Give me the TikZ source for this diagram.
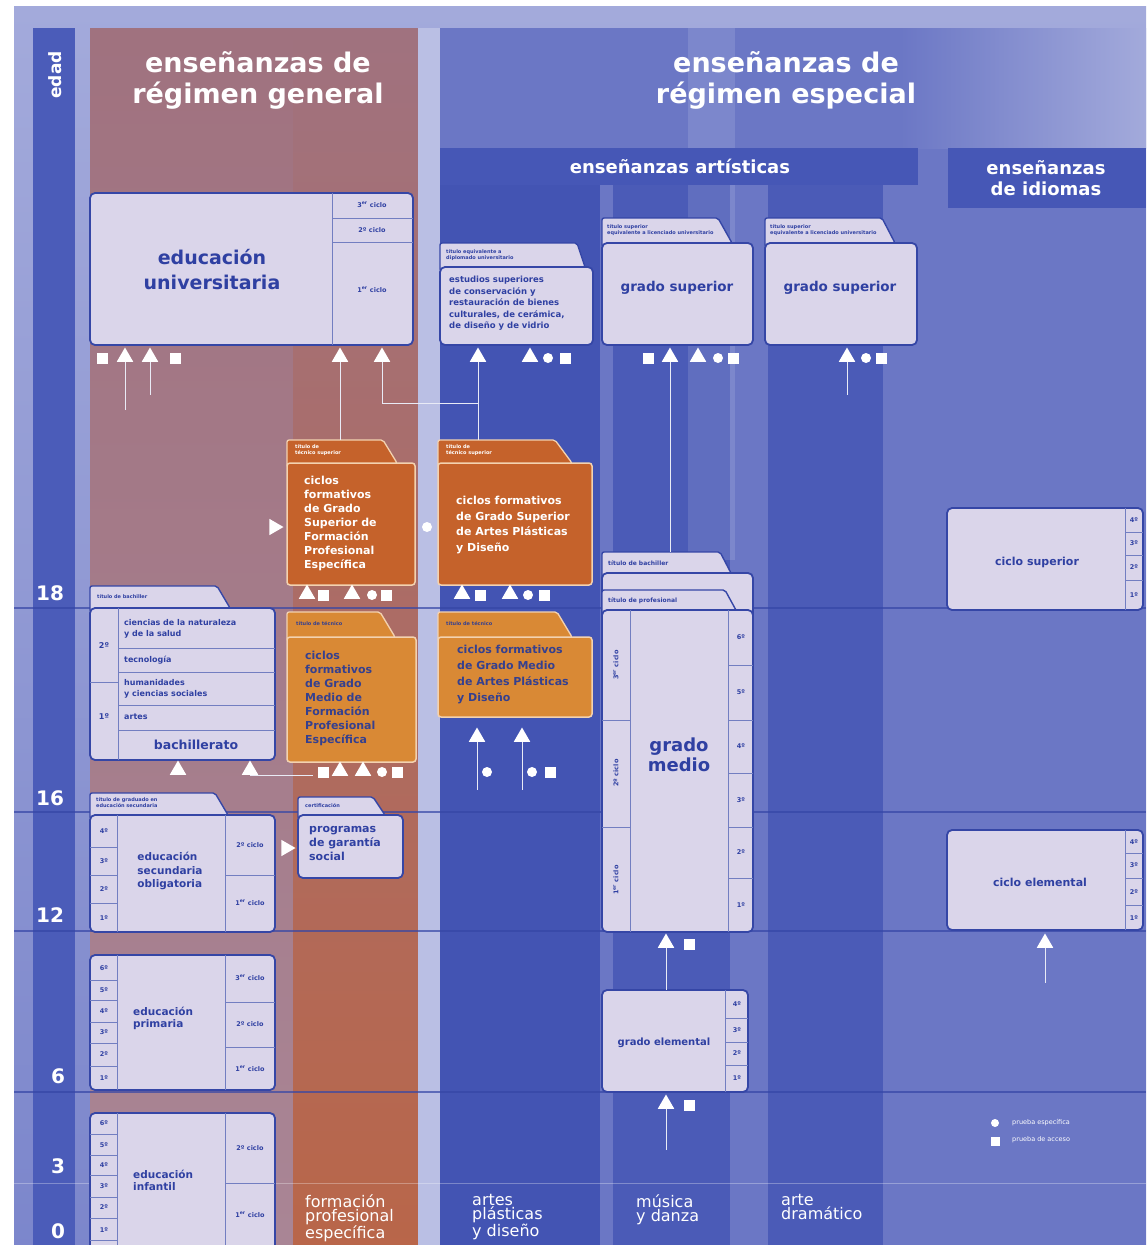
\documentclass[tikz,border=0pt]{standalone}
\usepackage{fontspec}
\setmainfont{DejaVu Sans}
\usetikzlibrary{shapes.geometric}
\definecolor{bgblue}{HTML}{6B77C5}
\definecolor{bglight}{HTML}{A3AADB}
\definecolor{darkband}{HTML}{4354B3}
\definecolor{edadblue}{HTML}{4B5CB9}
\definecolor{mauve}{HTML}{A0727F}
\definecolor{mauvelight}{HTML}{A98595}
\definecolor{fporange}{HTML}{BD6440}
\definecolor{boxfill}{HTML}{DAD5EA}
\definecolor{boxline}{HTML}{3546A6}
\definecolor{boxtext}{HTML}{2F40A2}
\definecolor{gsorange}{HTML}{C5622B}
\definecolor{gmorange}{HTML}{D98935}
\definecolor{oline}{HTML}{F3D2B0}
\definecolor{navy}{HTML}{35408F}
\definecolor{barblue}{HTML}{4657B6}
\newcommand\bx[6]{\node[#6,anchor=north west,minimum width={(#4-#2)*1pt},minimum height={(#5-#3)*1pt}] (#1) at (#2,#3) {};}
\newcommand\ftab[6]{\draw[#6] (#1,#5+4) -- (#1,#2) -- (#3,#2) -- (#4,#5) -- (#4,#5+4) -- cycle;}
\begin{document}
\begin{tikzpicture}[x=1pt,y=-1pt,
 box/.style={draw=boxline,line width=1.8pt,fill=boxfill,rounded corners=5pt,inner sep=0pt,outer sep=0pt},
 tabst/.style={draw=boxline,line width=1.4pt,fill=boxfill,rounded corners=2pt},
 gsbox/.style={draw=oline,line width=1.5pt,fill=gsorange,rounded corners=3pt,inner sep=0pt,outer sep=0pt},
 gmbox/.style={draw=oline,line width=1.5pt,fill=gmorange,rounded corners=3pt,inner sep=0pt,outer sep=0pt},
 gstab/.style={draw=oline,line width=1.3pt,fill=gsorange,rounded corners=2pt},
 gmtab/.style={draw=oline,line width=1.3pt,fill=gmorange,rounded corners=2pt},
 div/.style={draw=boxline!70,line width=0.8pt},
 tri/.style={regular polygon,regular polygon sides=3,fill=white,inner sep=0pt,minimum size=19pt},
 trir/.style={tri,shape border rotate=-90},
 sqm/.style={rectangle,fill=white,inner sep=0pt,minimum size=11pt},
 dotm/.style={circle,fill=white,inner sep=0pt,minimum size=10pt},
 conn/.style={draw=white!85!bgblue,line width=0.9pt},
 bigt/.style={font=\bfseries\fontsize{19}{25}\selectfont,text=boxtext,align=center,inner sep=0pt},
 midt/.style={font=\bfseries\fontsize{13.5}{16}\selectfont,text=boxtext,align=center,inner sep=0pt},
 lbl/.style={font=\bfseries\fontsize{10.5}{12.5}\selectfont,text=boxtext,align=left,inner sep=0pt},
 smt/.style={font=\bfseries\fontsize{8.5}{11.5}\selectfont,text=boxtext,align=left,inner sep=0pt},
 cyc/.style={font=\bfseries\fontsize{6.5}{7}\selectfont,text=boxtext,inner sep=0pt},
 tabt/.style={font=\bfseries\fontsize{5}{6}\selectfont,text=boxtext,align=left,anchor=west,inner sep=0pt},
 headt/.style={font=\bfseries\fontsize{27}{31}\selectfont,text=white,align=center},
 barh/.style={font=\bfseries\fontsize{18}{21}\selectfont,text=white,align=center},
 aget/.style={font=\bfseries\fontsize{20}{22}\selectfont,text=white},
 foott/.style={font=\fontsize{16}{14.5}\selectfont,text=white,align=left,anchor=north west,inner sep=0pt},
 wtxt/.style={font=\bfseries\fontsize{11}{14}\selectfont,text=white,align=left,anchor=north west,inner sep=0pt},
 ntxt/.style={font=\bfseries\fontsize{11}{14}\selectfont,text=navy,align=left,anchor=north west,inner sep=0pt},
 legt/.style={font=\fontsize{6.5}{7}\selectfont,text=white,anchor=west,inner sep=0pt}
]
\useasboundingbox (0,0) rectangle (1146,1245);
% ---------- background ----------
\fill[white] (0,0) rectangle (1146,1245);
\shade[top color=bglight,bottom color=bgblue!70!bglight] (14,6) rectangle (1146,1245);
\fill[edadblue] (33,28) rectangle (75,1245);
\shade[top color=mauve,bottom color=mauvelight] (90,28) rectangle (418,1245);
\shade[top color=mauve,middle color=fporange,bottom color=fporange!85!mauve] (293,28) rectangle (418,1245);
\fill[bglight!75!white] (418,28) rectangle (440,1245);
\fill[bgblue] (440,28) rectangle (1146,1245);
\shade[left color=bgblue,right color=bglight] (900,28) rectangle (1146,148);
\fill[darkband] (440,185) rectangle (600,1245);
\fill[darkband!80!bgblue] (613,185) rectangle (730,1245);
\fill[darkband!80!bgblue] (768,185) rectangle (883,1245);
\fill[white,opacity=.12] (688,28) rectangle (735,560);
\fill[barblue] (440,148) rectangle (918,185);
\fill[barblue] (948,148) rectangle (1146,208);
\foreach \yy in {608,812,931,1092} {\draw[boxline,line width=1.2pt,opacity=.7] (14,\yy) -- (1146,\yy);}
\draw[white,opacity=.3,line width=1pt] (14,1183) -- (1146,1183);
% ---------- headers ----------
\node[font=\bfseries\fontsize{17}{19}\selectfont,text=white,rotate=90] (edad) at (55,75) {edad};
\node[headt] (hgen) at (258,80) {enseñanzas de\\régimen general};
\node[headt] (hesp) at (786,80) {enseñanzas de\\régimen especial};
\node[barh] (hart) at (680,166) {enseñanzas artísticas};
\node[barh] (hidi) at (1046,178) {enseñanzas\\de idiomas};
% ages
\node[aget] (a18) at (50,593) {18};
\node[aget] (a16) at (50,798) {16};
\node[aget] (a12) at (50,915) {12};
\node[aget] (a6) at (58,1076) {6};
\node[aget] (a3) at (58,1166) {3};
\node[aget] (a0) at (58,1231) {0};
% ---------- educación universitaria ----------
\bx{univ}{90}{193}{413}{345}{box}
\draw[div] (332,193) -- (332,345) (332,218) -- (413,218) (332,242) -- (413,242);
\node[cyc] (u3c) at (372,205) {3\textsuperscript{er} ciclo};
\node[cyc] (u2c) at (372,230) {2º ciclo};
\node[cyc] (u1c) at (372,290) {1\textsuperscript{er} ciclo};
\node[bigt] (univt) at (212,270) {educación\\universitaria};
% ---------- artes plasticas superiores ----------
\ftab{440}{243}{577}{585}{267}{tabst}
\node[tabt] (arsupl) at (446,255) {título equivalente a\\diplomado universitario};
\bx{arsup}{440}{267}{593}{345}{box}
\node[smt,anchor=north west] (arsupt) at (449,276) {estudios superiores\\de conservación y\\restauración de bienes\\culturales, de cerámica,\\de diseño y de vidrio};
% ---------- grado superior musica / arte dramatico ----------
\ftab{602}{218}{718}{732}{243}{tabst}
\node[tabt] (msupl) at (607,230) {título superior\\equivalente a licenciado universitario};
\bx{msup}{602}{243}{753}{345}{box}
\node[midt] (msupt) at (677,288) {grado superior};
\ftab{765}{218}{882}{895}{243}{tabst}
\node[tabt] (dsupl) at (770,230) {título superior\\equivalente a licenciado universitario};
\bx{dsup}{765}{243}{917}{345}{box}
\node[midt] (dsupt) at (840,288) {grado superior};
% ---------- ciclos grado superior ----------
\ftab{287}{440}{383}{397}{463}{gstab}
\node[tabt,text=white] (gsfpl) at (295,450) {título de\\técnico superior};
\bx{gsfp}{287}{463}{415}{585}{gsbox}
\node[wtxt] (gsfpt) at (304,476) {ciclos\\formativos\\de Grado\\Superior de\\Formación\\Profesional\\Específica};
\ftab{438}{440}{555}{572}{463}{gstab}
\node[tabt,text=white] (gsapl) at (446,450) {título de\\técnico superior};
\bx{gsap}{438}{463}{592}{585}{gsbox}
\node[wtxt,font=\bfseries\fontsize{11}{15.5}\selectfont] (gsapt) at (456,496) {ciclos formativos\\de Grado Superior\\de Artes Plásticas\\y Diseño};
% ---------- bachillerato ----------
\ftab{90}{586}{217}{230}{608}{tabst}
\node[tabt] (bachl) at (97,597) {título de bachiller};
\bx{bach}{90}{608}{275}{760}{box}
\draw[div] (118,608) -- (118,760) (118,648) -- (275,648) (118,672) -- (275,672) (118,705) -- (275,705) (118,730) -- (275,730) (90,682) -- (118,682);
\node[font=\bfseries\fontsize{8}{10.5}\selectfont,text=boxtext,align=left,anchor=west,inner sep=0pt] (b1) at (124,629) {ciencias de la naturaleza\\y de la salud};
\node[font=\bfseries\fontsize{8}{10.5}\selectfont,text=boxtext,anchor=west,inner sep=0pt] (b2) at (124,660) {tecnología};
\node[font=\bfseries\fontsize{8}{10.5}\selectfont,text=boxtext,align=left,anchor=west,inner sep=0pt] (b3) at (124,689) {humanidades\\y ciencias sociales};
\node[font=\bfseries\fontsize{8}{10.5}\selectfont,text=boxtext,anchor=west,inner sep=0pt] (b4) at (124,717) {artes};
\node[font=\bfseries\fontsize{12.5}{14}\selectfont,text=boxtext,inner sep=0pt] (bacht) at (196,745) {bachillerato};
\node[cyc,font=\bfseries\fontsize{8}{9}\selectfont] (b2o) at (104,646) {2º};
\node[cyc,font=\bfseries\fontsize{8}{9}\selectfont] (b1o) at (104,717) {1º};
% ---------- ciclos grado medio ----------
\ftab{287}{612}{380}{395}{637}{gmtab}
\node[tabt,text=navy] (gmfpl) at (296,624) {título de técnico};
\bx{gmfp}{287}{637}{416}{762}{gmbox}
\node[ntxt] (gmfpt) at (305,651) {ciclos\\formativos\\de Grado\\Medio de\\Formación\\Profesional\\Específica};
\ftab{438}{612}{557}{572}{637}{gmtab}
\node[tabt,text=navy] (gmapl) at (446,624) {título de técnico};
\bx{gmap}{438}{637}{592}{717}{gmbox}
\node[ntxt,font=\bfseries\fontsize{11}{16}\selectfont] (gmapt) at (457,645) {ciclos formativos\\de Grado Medio\\de Artes Plásticas\\y Diseño};
% ---------- ESO ----------
\ftab{90}{793}{215}{228}{815}{tabst}
\node[tabt] (esol) at (96,803) {título de graduado en\\educación secundaria};
\bx{eso}{90}{815}{275}{932}{box}
\draw[div] (117,815) -- (117,932) (90,847) -- (117,847) (90,875) -- (117,875) (90,903) -- (117,903) (225,815) -- (225,932) (225,875) -- (275,875);
\node[cyc] (e4) at (104,831) {4º};
\node[cyc] (e3) at (104,861) {3º};
\node[cyc] (e2) at (104,889) {2º};
\node[cyc] (e1) at (104,918) {1º};
\node[cyc] (e2c) at (250,845) {2º ciclo};
\node[cyc] (e1c) at (250,903) {1\textsuperscript{er} ciclo};
\node[lbl,font=\bfseries\fontsize{10.5}{13.5}\selectfont] (esot) at (170,871) {educación\\secundaria\\obligatoria};
% ---------- garantía social ----------
\ftab{298}{797}{373}{385}{815}{tabst}
\node[tabt] (pgsl) at (305,806) {certificación};
\bx{pgs}{298}{815}{403}{878}{box}
\node[lbl,font=\bfseries\fontsize{11}{14}\selectfont,anchor=north west] (pgst) at (309,826) {programas\\de garantía\\social};
% ---------- primaria ----------
\bx{prim}{90}{955}{275}{1090}{box}
\draw[div] (117,955) -- (117,1090) (225,955) -- (225,1090) (225,1002) -- (275,1002) (225,1047) -- (275,1047);
\foreach \yy in {980,1000,1022,1043,1066} {\draw[div] (90,\yy) -- (117,\yy);}
\node[cyc] (p6) at (104,968) {6º};
\node[cyc] (p5) at (104,990) {5º};
\node[cyc] (p4) at (104,1011) {4º};
\node[cyc] (p3) at (104,1032) {3º};
\node[cyc] (p2) at (104,1054) {2º};
\node[cyc] (p1) at (104,1078) {1º};
\node[cyc] (p3c) at (250,978) {3\textsuperscript{er} ciclo};
\node[cyc] (p2c) at (250,1024) {2º ciclo};
\node[cyc] (p1c) at (250,1069) {1\textsuperscript{er} ciclo};
\node[lbl,anchor=west,font=\bfseries\fontsize{10.5}{12}\selectfont] (primt) at (133,1018) {educación\\primaria};
% ---------- infantil ----------
\bx{inf}{90}{1113}{275}{1262}{box}
\draw[div] (117,1113) -- (117,1262) (225,1113) -- (225,1262) (225,1183) -- (275,1183);
\foreach \yy in {1134,1155,1175,1197,1218,1240} {\draw[div] (90,\yy) -- (117,\yy);}
\node[cyc] (i6) at (104,1123) {6º};
\node[cyc] (i5) at (104,1145) {5º};
\node[cyc] (i4) at (104,1165) {4º};
\node[cyc] (i3) at (104,1186) {3º};
\node[cyc] (i2) at (104,1207) {2º};
\node[cyc] (i1) at (104,1230) {1º};
\node[cyc] (i2c) at (250,1148) {2º ciclo};
\node[cyc] (i1c) at (250,1215) {1\textsuperscript{er} ciclo};
\node[lbl,anchor=west,font=\bfseries\fontsize{10.5}{12}\selectfont] (inft) at (133,1180) {educación\\infantil};
% ---------- grado medio musica ----------
\ftab{602}{552}{720}{732}{575}{tabst}
\node[tabt,font=\bfseries\fontsize{6}{7}\selectfont] (gmt1) at (608,563) {título de bachiller};
\bx{gmback}{602}{573}{753}{625}{box}
\ftab{602}{590}{725}{737}{612}{tabst}
\node[tabt,font=\bfseries\fontsize{6}{7}\selectfont] (gmt2) at (608,601) {título de profesional};
\bx{gmed}{602}{610}{753}{932}{box}
\draw[div] (630,610) -- (630,932) (728,610) -- (728,932) (602,720) -- (630,720) (602,827) -- (630,827);
\foreach \yy in {665,720,773,827,878} {\draw[div] (728,\yy) -- (753,\yy);}
\node[cyc] (g6) at (741,637) {6º};
\node[cyc] (g5) at (741,692) {5º};
\node[cyc] (g4) at (741,746) {4º};
\node[cyc] (g3) at (741,800) {3º};
\node[cyc] (g2) at (741,852) {2º};
\node[cyc] (g1) at (741,905) {1º};
\node[cyc,rotate=90] (g3c) at (616,665) {3\textsuperscript{er} ciclo};
\node[cyc,rotate=90] (g2c) at (616,773) {2º ciclo};
\node[cyc,rotate=90] (g1c) at (616,880) {1\textsuperscript{er} ciclo};
\node[bigt,font=\bfseries\fontsize{18}{20}\selectfont] (gmedt) at (679,755) {grado\\medio};
% ---------- grado elemental ----------
\bx{gelem}{602}{990}{748}{1092}{box}
\draw[div] (725,990) -- (725,1092);
\foreach \yy in {1018,1042,1065} {\draw[div] (725,\yy) -- (748,\yy);}
\node[cyc] (ge4) at (737,1004) {4º};
\node[cyc] (ge3) at (737,1030) {3º};
\node[cyc] (ge2) at (737,1053) {2º};
\node[cyc] (ge1) at (737,1078) {1º};
\node[lbl,font=\bfseries\fontsize{10}{12}\selectfont] (gelemt) at (664,1043) {grado elemental};
% ---------- idiomas ----------
\bx{csup}{947}{508}{1143}{610}{box}
\draw[div] (1125,508) -- (1125,610);
\foreach \yy in {532,555,580} {\draw[div] (1125,\yy) -- (1143,\yy);}
\node[cyc] (cs4) at (1134,520) {4º};
\node[cyc] (cs3) at (1134,543) {3º};
\node[cyc] (cs2) at (1134,567) {2º};
\node[cyc] (cs1) at (1134,595) {1º};
\node[lbl,font=\bfseries\fontsize{11}{13}\selectfont] (csupt) at (1037,562) {ciclo superior};
\bx{celem}{947}{830}{1143}{930}{box}
\draw[div] (1125,830) -- (1125,930);
\foreach \yy in {853,878,905} {\draw[div] (1125,\yy) -- (1143,\yy);}
\node[cyc] (ce4) at (1134,842) {4º};
\node[cyc] (ce3) at (1134,865) {3º};
\node[cyc] (ce2) at (1134,892) {2º};
\node[cyc] (ce1) at (1134,918) {1º};
\node[lbl,font=\bfseries\fontsize{11}{13}\selectfont] (celemt) at (1040,882) {ciclo elemental};
% ---------- markers ----------
\node[sqm] (us1) at (102,358) {};
\node[tri] (ut1) at (125,357) {};
\node[tri] (ut2) at (150,357) {};
\node[sqm] (us2) at (175,358) {};
\node[tri] (ut3) at (340,357) {};
\node[tri] (ut4) at (382,357) {};
\node[tri] (at1) at (478,357) {};
\node[tri] (at2) at (530,357) {};
\node[dotm] (ad1) at (548,358) {};
\node[sqm] (as1) at (565,358) {};
\node[sqm] (ms1) at (648,358) {};
\node[tri] (mt1) at (670,357) {};
\node[tri] (mt2) at (698,357) {};
\node[dotm] (md1) at (718,358) {};
\node[sqm] (ms2) at (733,358) {};
\node[tri] (dt1) at (847,357) {};
\node[dotm] (dd1) at (866,358) {};
\node[sqm] (ds1) at (881,358) {};
\node[trir] (fr1) at (274,527) {};
\node[dotm] (fd0) at (427,527) {};
\node[tri] (ft1) at (307,594) {};
\node[sqm] (fs1) at (323,595) {};
\node[tri] (ft2) at (352,594) {};
\node[dotm] (fd1) at (372,595) {};
\node[sqm] (fs2) at (386,595) {};
\node[tri] (pt1) at (462,594) {};
\node[sqm] (ps1) at (480,595) {};
\node[tri] (pt2) at (510,594) {};
\node[dotm] (pd1) at (528,595) {};
\node[sqm] (ps2) at (544,595) {};
\node[tri] (bt1) at (178,770) {};
\node[tri] (bt2) at (250,770) {};
\node[sqm] (gs1) at (323,772) {};
\node[tri] (gt1) at (340,771) {};
\node[tri] (gt2) at (363,771) {};
\node[dotm] (gd1) at (382,772) {};
\node[sqm] (gs2) at (397,772) {};
\node[tri] (qt1) at (477,737) {};
\node[tri] (qt2) at (522,737) {};
\node[dotm] (qd1) at (487,772) {};
\node[dotm] (qd2) at (532,772) {};
\node[sqm] (qs1) at (550,772) {};
\node[trir] (er1) at (286,848) {};
\node[tri] (mm1) at (666,943) {};
\node[sqm] (mm2) at (689,944) {};
\node[tri] (ee1) at (666,1104) {};
\node[sqm] (ee2) at (689,1105) {};
\node[tri] (it1) at (1045,943) {};
% ---------- connectors ----------
\coordinate (c1) at (125,410);
\coordinate (c2) at (150,395);
\coordinate (c3) at (340,440);
\coordinate (c4) at (382,403);
\coordinate (c5) at (478,403);
\coordinate (c6) at (478,440);
\coordinate (c7) at (670,552);
\coordinate (c8) at (847,395);
\coordinate (c10) at (477,790);
\coordinate (c11) at (522,790);
\coordinate (c12) at (666,990);
\coordinate (c13) at (666,1150);
\coordinate (c14) at (1045,983);
\draw[conn] (ut1.south) -- (c1);
\draw[conn] (ut2.south) -- (c2);
\draw[conn] (ut3.south) -- (c3);
\draw[conn] (ut4.south) -- (c4) -- (c5);
\draw[conn] (at1.south) -- (c6);
\draw[conn] (mt1.south) -- (c7);
\draw[conn] (dt1.south) -- (c8);
\draw[conn] (bt2.south) -- ++(63,0) coordinate (c9);
\draw[conn] (qt1.south) -- (c10);
\draw[conn] (qt2.south) -- (c11);
\draw[conn] (mm1.south) -- (c12);
\draw[conn] (ee1.south) -- (c13);
\draw[conn] (it1.south) -- (c14);
% ---------- legend ----------
\node[dotm,minimum size=8pt] (lg1) at (995,1123) {};
\node[sqm,minimum size=9pt] (lg2) at (995,1141) {};
\node[legt] (lg1t) at (1012,1123) {prueba específica};
\node[legt] (lg2t) at (1012,1140) {prueba de acceso};
% ---------- column labels ----------
\node[foott] (fpe) at (305,1194) {formación\\profesional\\específica};
\node[foott] (apd) at (472,1194) {artes\\plásticas\\y diseño};
\node[foott] (myd) at (636,1194) {música\\y danza};
\node[foott] (adr) at (781,1194) {arte\\dramático};
\end{tikzpicture}
\end{document}
